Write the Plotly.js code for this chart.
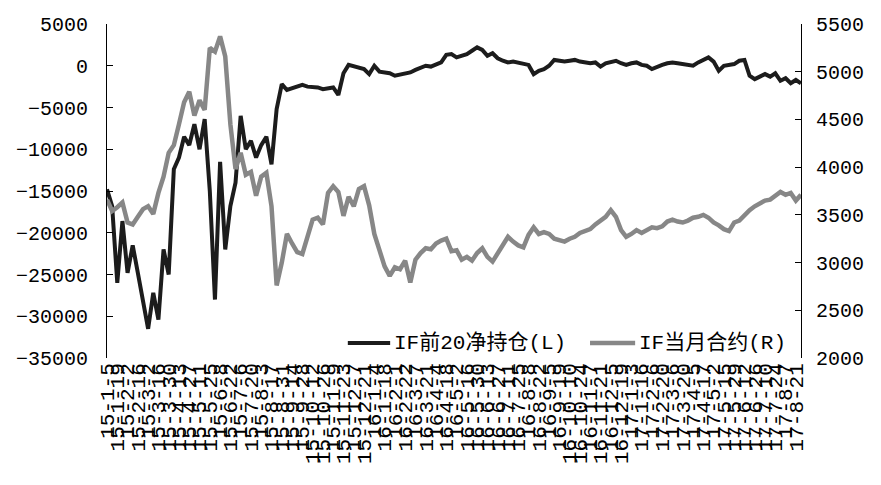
<!DOCTYPE html>
<html>
<head>
<meta charset="utf-8">
<script src="https://cdn.plot.ly/plotly-3.0.1.min.js"></script>
<style>html,body{margin:0;padding:0;background:#fff;}#chart{width:881px;height:485px;}</style>
</head>
<body>
<div id="chart"></div>
<script>
// Weekly categories (yy-m-d)
const categories = [
"15-1-5","15-1-12","15-1-19","15-1-26","15-2-2","15-2-9","15-2-16","15-2-23","15-3-2","15-3-9",
"15-3-16","15-3-23","15-3-30","15-4-6","15-4-13","15-4-20","15-4-27","15-5-4","15-5-11","15-5-18",
"15-5-25","15-6-1","15-6-8","15-6-15","15-6-22","15-6-29","15-7-6","15-7-13","15-7-20","15-7-27",
"15-8-3","15-8-10","15-8-17","15-8-24","15-8-31","15-9-7","15-9-14","15-9-21","15-9-28","15-10-5",
"15-10-12","15-10-19","15-10-26","15-11-2","15-11-9","15-11-16","15-11-23","15-11-30","15-12-7","15-12-14",
"15-12-21","15-12-28","16-1-4","16-1-11","16-1-18","16-1-25","16-2-1","16-2-15","16-2-22","16-2-29",
"16-3-7","16-3-14","16-3-21","16-3-28","16-4-4","16-4-11","16-4-18","16-4-25","16-5-2","16-5-9",
"16-5-16","16-5-23","16-5-30","16-6-6","16-6-13","16-6-20","16-6-27","16-7-4","16-7-11","16-7-18",
"16-7-25","16-8-1","16-8-8","16-8-15","16-8-22","16-8-29","16-9-5","16-9-12","16-9-19","16-9-26",
"16-10-10","16-10-17","16-10-24","16-10-31","16-11-7","16-11-14","16-11-21","16-11-28","16-12-5","16-12-12",
"16-12-19","16-12-26","17-1-3","17-1-9","17-1-16","17-1-23","17-2-6","17-2-13","17-2-20","17-2-27",
"17-3-6","17-3-13","17-3-20","17-3-27","17-4-5","17-4-10","17-4-17","17-4-24","17-5-2","17-5-8",
"17-5-15","17-5-22","17-5-29","17-6-5","17-6-12","17-6-19","17-6-26","17-7-3","17-7-10","17-7-17",
"17-7-24","17-7-31","17-8-7","17-8-14","17-8-21","17-8-28"
];

// IF前20净持仓 (left axis)
const netPosition = [
-14800,-16800,-26000,-18600,-24800,-21500,-24800,-28000,-31500,-27200,
-30400,-22000,-25000,-12400,-11000,-8500,-9500,-7000,-10000,-6400,
-15000,-28000,-11500,-22000,-16800,-14000,-6000,-10000,-9000,-11000,
-9500,-8500,-11800,-5200,-2200,-2900,-2700,-2400,-2300,-2500,
-2500,-2600,-2800,-2700,-2600,-3500,-900,100,-100,-300,
-400,-1000,0,-700,-800,-900,-1200,-1100,-1000,-800,
-500,-200,0,-100,200,400,1300,1400,1000,1200,
1400,1800,2200,1900,1200,1500,900,600,400,500,
400,300,100,-1000,-600,-400,0,700,600,500,
600,700,500,400,300,400,-100,300,500,600,
300,100,300,400,100,0,-400,-100,100,300,
400,300,200,100,0,400,700,1000,500,-600,
0,100,200,600,700,-1200,-1600,-1300,-1000,-1300,
-900,-1800,-1500,-2100,-1700,-2100
];

// IF当月合约 (right axis)
const contractPrice = [
3660,3540,3580,3630,3420,3400,3480,3560,3590,3510,
3730,3900,4150,4230,4450,4680,4790,4540,4700,4600,
5250,5210,5370,5160,4450,3980,4150,3920,3950,3700,
3900,3940,3590,2760,3000,3300,3200,3110,3090,3280,
3450,3470,3400,3730,3800,3740,3490,3690,3590,3770,
3800,3600,3300,3130,2960,2860,2950,2930,3020,2790,
3030,3100,3150,3140,3200,3230,3250,3120,3130,3030,
3060,3020,3100,3150,3060,3010,3100,3180,3270,3220,
3180,3160,3290,3370,3300,3320,3300,3250,3230,3220,
3250,3270,3310,3330,3350,3400,3440,3480,3550,3480,
3340,3270,3300,3340,3310,3340,3370,3360,3380,3430,
3450,3430,3420,3440,3470,3480,3500,3470,3420,3390,
3350,3330,3420,3440,3500,3550,3590,3620,3650,3660,
3700,3740,3710,3730,3650,3710
];

const seriesNames = ["IF前20净持仓(L)", "IF当月合约(R)"];
const seriesColors = ["#1c1c1c", "#878787"];
const tickLabels = categories.filter((c, i) => i % 2 === 0);

const fontMono = "Liberation Mono, Noto Sans CJK SC, monospace";

const traces = [
  {x: categories, y: netPosition, type: "scatter", mode: "lines", name: seriesNames[0],
   line: {color: seriesColors[0], width: 4}, yaxis: "y", showlegend: false},
  {x: categories, y: contractPrice, type: "scatter", mode: "lines", name: seriesNames[1],
   line: {color: seriesColors[1], width: 4.5}, yaxis: "y2", showlegend: false}
];

const axisCommon = {
  showgrid: false, zeroline: false, showline: true, linecolor: "#000", linewidth: 1,
  ticks: "inside", ticklen: 6, tickcolor: "#000", tickwidth: 1,
  tickformat: "d",
  tickfont: {family: fontMono, size: 20, color: "#000"}, automargin: false
};

// manual legend (paper coordinates)
const legendY = 0.045;
const legendItems = [
  {x0: 0.347, x1: 0.408, tx: 0.411},
  {x0: 0.696, x1: 0.761, tx: 0.764}
];
const shapes = legendItems.map((it, k) => ({
  type: "line", xref: "paper", yref: "paper", x0: it.x0, x1: it.x1, y0: legendY, y1: legendY,
  line: {color: seriesColors[k], width: k === 0 ? 4 : 4.5}
}));
const annotations = legendItems.map((it, k) => ({
  xref: "paper", yref: "paper", x: it.tx, y: legendY, xanchor: "left", yanchor: "middle",
  text: seriesNames[k], showarrow: false, font: {family: fontMono, size: 21, color: "#000"}
}));

const layout = {
  width: 881, height: 485,
  margin: {l: 107, r: 80, t: 24, b: 127, pad: 0},
  paper_bgcolor: "#fff", plot_bgcolor: "#fff",
  showlegend: false,
  shapes: shapes, annotations: annotations,
  xaxis: {type: "category", range: [0, categories.length - 1], tickmode: "array",
          tickvals: tickLabels, ticktext: tickLabels, tickangle: -90,
          showline: false, showgrid: false, zeroline: false, ticks: "",
          tickfont: {family: fontMono, size: 21, color: "#000"}, automargin: false},
  yaxis: Object.assign({}, axisCommon, {range: [-35000, 5000], dtick: 5000, tick0: 0, side: "left",
          ticklabelstandoff: 14}),
  yaxis2: Object.assign({}, axisCommon, {range: [2000, 5500], dtick: 500, tick0: 2000,
          overlaying: "y", side: "right", ticklabelstandoff: 10})
};

Plotly.newPlot("chart", traces, layout, {staticPlot: true, displayModeBar: false});
</script>
</body>
</html>
